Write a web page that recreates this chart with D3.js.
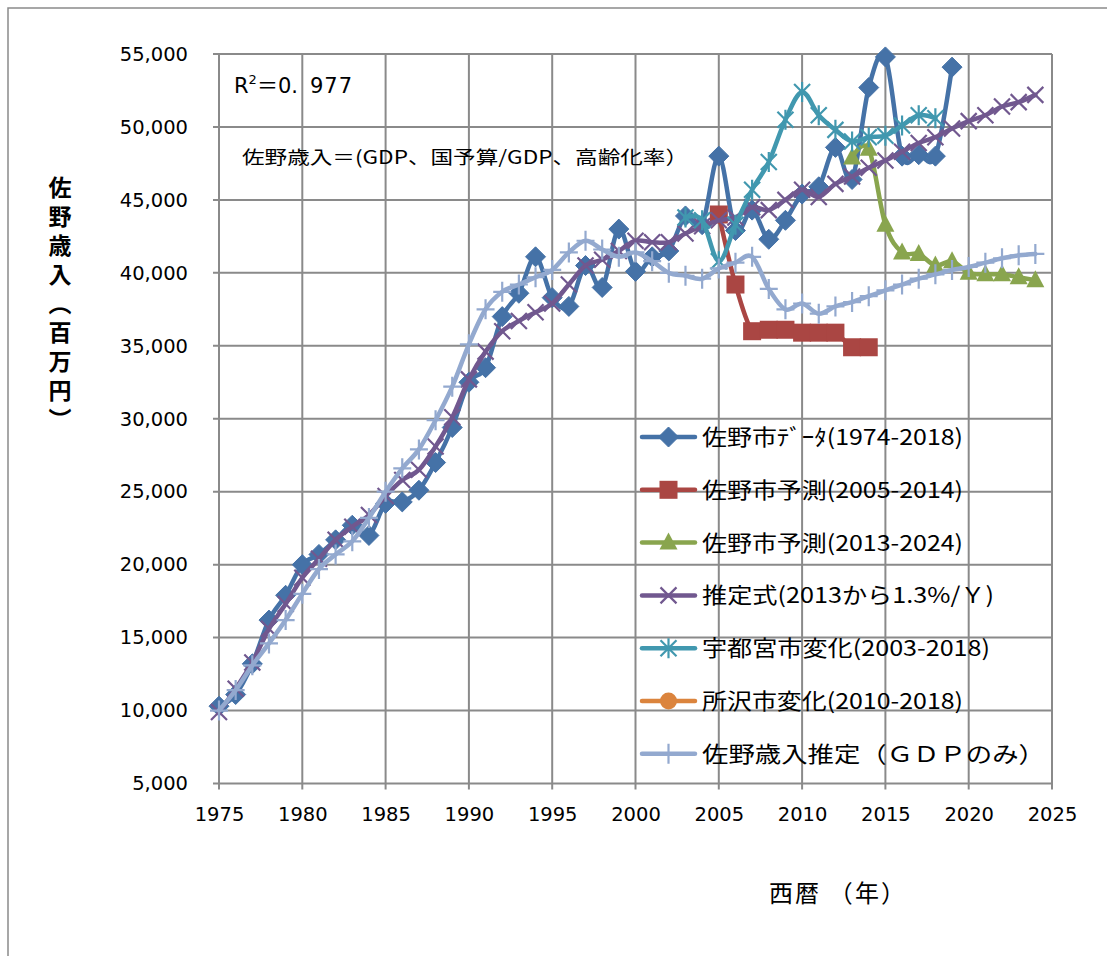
<!DOCTYPE html>
<html><head><meta charset="utf-8">
<script src="https://cdn.jsdelivr.net/npm/d3@7"></script>
<style>
html,body{margin:0;padding:0;background:#fff;}
svg{display:block;}
</style></head>
<body>
<svg id="chart" width="1107" height="956"></svg>
<script>
// ---------- data ----------
const xTicks = [1975,1980,1985,1990,1995,2000,2005,2010,2015,2020,2025];
const yTicks = [5000,10000,15000,20000,25000,30000,35000,40000,45000,50000,55000];

const sanoYears = d3.range(1975, 2020);
const sanoData = [10300,11100,13200,16200,17900,20000,20700,21700,22700,22000,
  24200,24300,25100,27000,29400,32500,33500,37000,38600,41100,
  38300,37700,40500,39000,43000,40100,41100,41500,43900,43300,
  48000,42900,44300,42300,43600,45400,45900,48600,46400,52700,
  54800,48000,48100,48000,54100];

const pred1Years = d3.range(2005, 2015);
const pred1Data = [44000,39200,36000,36100,36100,35900,35900,35900,34900,34900];

const pred2Years = d3.range(2013, 2025);
const pred2Data = [47900,48500,43300,41400,41300,40500,40800,40000,39900,39900,39700,39500];

const formulaYears = d3.range(1975, 2025);
const formulaData = [9900,11500,13300,15600,17300,19100,20400,21700,22600,23400,
  24700,25800,26500,28100,30100,32700,34600,36000,36700,37300,
  37900,39200,40500,40900,41500,42200,42100,42100,42700,43200,
  43600,43800,44500,44300,45000,45700,45200,46100,46600,47200,
  47700,48300,48900,49300,49900,50400,50800,51400,51700,52200];

const utsuYears = d3.range(2003, 2019);
const utsuData = [43800,43600,40800,43300,45700,47600,50500,52400,50800,49800,
  49000,49300,49400,50100,50800,50600];

const tokoYears = [];
const tokoData = [];

const gdpYears = d3.range(1975, 2025);
const gdpData = [10000,11400,13100,14600,16200,18000,19700,20700,21600,23200,
  25000,26600,27900,29900,32200,35100,37500,38700,39200,39700,
  40200,41400,42200,41600,41100,41400,40800,40000,39800,39600,
  40300,40700,41100,38900,37500,37900,37200,37700,38000,38400,
  38800,39200,39600,39900,40200,40400,40700,41000,41200,41300];

const seriesNames = ["佐野市ﾃﾞｰﾀ(1974-2018)","佐野市予測(2005-2014)","佐野市予測(2013-2024)",
  "推定式(2013から1.3%/Ｙ)","宇都宮市変化(2003-2018)","所沢市変化(2010-2018)","佐野歳入推定（ＧＤＰのみ）"];
const seriesColors = ["#4572A7","#AA4643","#89A54E","#71588F","#4198AF","#DB843D","#93A9CF"];
const seriesMarkers = ["diamond","square","triangle","x","star","circle","plus"];
const seriesYears = [sanoYears,pred1Years,pred2Years,formulaYears,utsuYears,tokoYears,gdpYears];
const seriesValues = [sanoData,pred1Data,pred2Data,formulaData,utsuData,tokoData,gdpData];
const legendWidths = [261,261,261,292,288,261,343];

// ---------- layout ----------
const svg = d3.select("#chart");
const L = 219, R = 1052, T = 54, B = 783.5;
const x = d3.scaleLinear().domain([1975,2025]).range([L,R]);
const y = d3.scaleLinear().domain([5000,55000]).range([B,T]);
const gridColor = "#8a8a8a";

// outer chart frame
svg.append("path").attr("d","M8,956 L8,8 L1107,8").attr("fill","none")
  .attr("stroke","#8a8a8a").attr("stroke-width",1.5);

// gridlines
svg.append("g").selectAll("line").data(xTicks).join("line")
  .attr("x1",d=>x(d)).attr("x2",d=>x(d)).attr("y1",T).attr("y2",B+6)
  .attr("stroke",gridColor).attr("stroke-width",2);
svg.append("g").selectAll("line").data(yTicks).join("line")
  .attr("x1",L-6).attr("x2",R).attr("y1",d=>y(d)).attr("y2",d=>y(d))
  .attr("stroke",gridColor).attr("stroke-width",2);

// axes labels
const fmt = d3.format(",");
const yAxis = d3.axisLeft(y).tickValues(yTicks).tickFormat(fmt).tickSize(0).tickPadding(31);
const gy = svg.append("g").attr("transform",`translate(${L},0)`).call(yAxis);
gy.select(".domain").remove();
gy.attr("font-size",null);
gy.selectAll("text").style("font-family","DejaVu Sans, sans-serif").style("font-size","19.5px").attr("fill","#000");

const xAxis = d3.axisBottom(x).tickValues(xTicks).tickFormat(d3.format("d")).tickSize(0).tickPadding(24);
const gx = svg.append("g").attr("transform",`translate(0,${B})`).call(xAxis);
gx.select(".domain").remove();
gx.attr("font-size",null);
gx.selectAll("text").style("font-family","DejaVu Sans, sans-serif").style("font-size","19.5px").attr("fill","#000");

// ---------- markers ----------
function marker(g, type, color, cx, cy){
  const s = g.append("g").attr("transform",`translate(${cx},${cy})`);
  if(type==="diamond"){
    s.append("path").attr("d","M0,-10L10,0L0,10L-10,0Z").attr("fill",color).attr("stroke",color).attr("stroke-width",1);
  } else if(type==="square"){
    s.append("rect").attr("x",-9).attr("y",-9).attr("width",18).attr("height",18).attr("fill",color);
  } else if(type==="triangle"){
    s.append("path").attr("d","M0,-10L9,7L-9,7Z").attr("fill",color);
  } else if(type==="x"){
    s.append("path").attr("d","M-8,-8L8,8M-8,8L8,-8").attr("stroke",color).attr("stroke-width",2.2);
  } else if(type==="star"){
    s.append("path").attr("d","M-8,-8L8,8M-8,8L8,-8M0,-10L0,10").attr("stroke",color).attr("stroke-width",2.2);
  } else if(type==="circle"){
    s.append("circle").attr("r",8.5).attr("fill",color);
  } else if(type==="plus"){
    s.append("path").attr("d","M-9,0L9,0M0,-10L0,10").attr("stroke",color).attr("stroke-width",2.2);
  }
}

// ---------- series ----------
const line = d3.line().x(d=>x(d[0])).y(d=>y(d[1])).curve(d3.curveCatmullRom.alpha(0));
const plot = svg.append("g");
seriesNames.forEach((name,i)=>{
  const pts = seriesYears[i].map((yr,j)=>[yr, seriesValues[i][j]]);
  if(!pts.length) return;
  const g = plot.append("g");
  g.append("path").datum(pts).attr("d",line).attr("fill","none")
    .attr("stroke",seriesColors[i]).attr("stroke-width",4.5)
    .attr("stroke-linejoin","round").attr("stroke-linecap","round");
  pts.forEach(p=>marker(g, seriesMarkers[i], seriesColors[i], x(p[0]), y(p[1])));
});

// ---------- legend ----------
const lg = svg.append("g");
seriesNames.forEach((name,i)=>{
  const cy = 437 + i*52.8;
  lg.append("line").attr("x1",642).attr("x2",695).attr("y1",cy).attr("y2",cy)
    .attr("stroke",seriesColors[i]).attr("stroke-width",4.5).attr("stroke-linecap","round");
  marker(lg, seriesMarkers[i], seriesColors[i], 668.5, cy);
  lg.append("text").attr("x",702).attr("y",cy+8).text(name)
    .attr("font-family","Noto Sans CJK JP, sans-serif").attr("font-size",22)
    .attr("textLength",legendWidths[i]).attr("lengthAdjust","spacingAndGlyphs").attr("fill","#000");
});

// ---------- annotations ----------
const r2 = svg.append("text").attr("x",234).attr("y",93)
  .attr("font-family","DejaVu Sans, sans-serif").attr("font-size",21).attr("fill","#000");
r2.append("tspan").text("R");
r2.append("tspan").text("2").attr("font-size",13).attr("dy",-9);
r2.append("tspan").text("＝").attr("dy",9).attr("font-family","Noto Sans CJK JP, sans-serif");
r2.append("tspan").text("0.");
r2.append("tspan").text("977").attr("dx",12).attr("letter-spacing",1);

svg.append("text").attr("x",242).attr("y",164).text("佐野歳入＝(GDP、国予算/GDP、高齢化率）")
  .attr("font-family","Noto Sans CJK JP, sans-serif").attr("font-size",18.5)
  .attr("textLength",446).attr("lengthAdjust","spacingAndGlyphs").attr("fill","#000");

// axis titles
svg.append("text").attr("x",60).attr("y",176).text("佐野歳入（百万円）")
  .attr("font-family","Noto Sans CJK JP, sans-serif").attr("font-size",23).attr("font-weight","bold")
  .style("writing-mode","vertical-rl").style("text-orientation","upright")
  .attr("letter-spacing",6).attr("fill","#000");

svg.append("text").attr("x",769).attr("y",902).text("西暦 （年）")
  .attr("font-family","Noto Sans CJK JP, sans-serif").attr("font-size",24)
  .attr("textLength",136).attr("lengthAdjust","spacing").attr("fill","#000");
</script>
</body></html>
